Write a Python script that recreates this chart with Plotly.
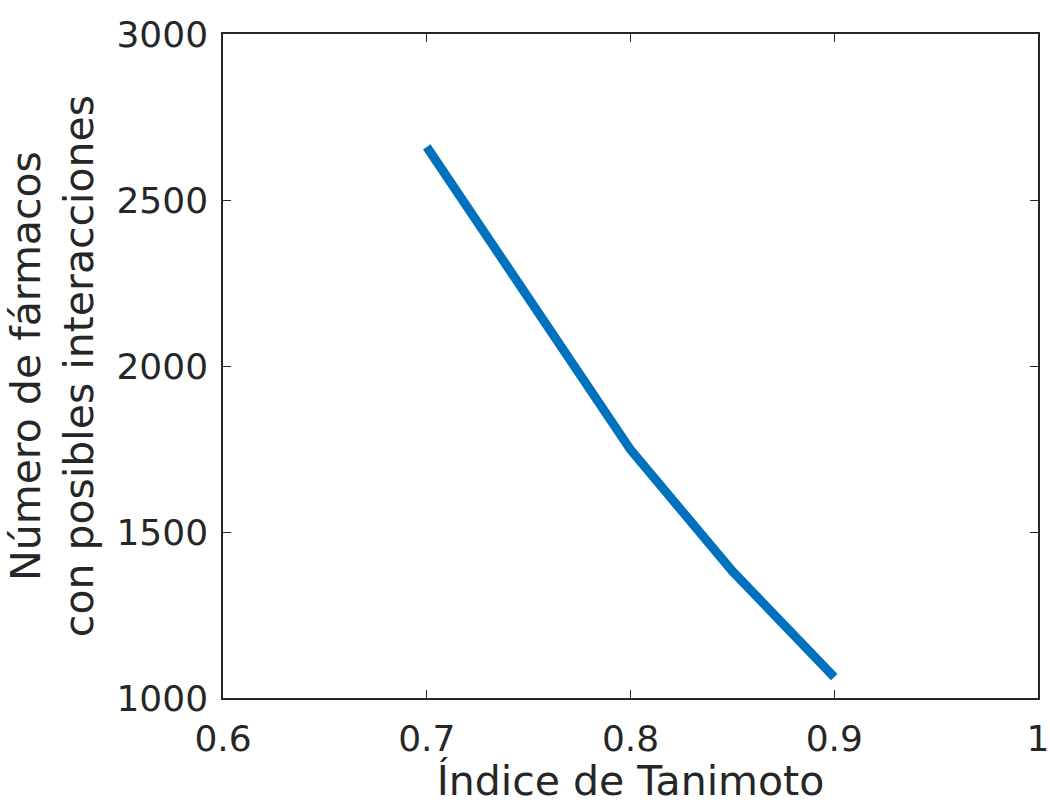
import plotly.graph_objects as go

tanimoto = [0.7, 0.75, 0.8, 0.85, 0.9]
n_farmacos = [2660, 2208, 1748, 1382, 1063]
x_ticks = [0.6, 0.7, 0.8, 0.9, 1.0]
x_tick_labels = ["0.6", "0.7", "0.8", "0.9", "1"]
y_ticks = [1000, 1500, 2000, 2500, 3000]
y_tick_labels = ["1000", "1500", "2000", "2500", "3000"]

axcol = "#262626"
tickfont = dict(family="DejaVu Sans", size=36, color=axcol)
titlefont = dict(family="DejaVu Sans", size=41, color=axcol)

fig = go.Figure()
fig.add_trace(go.Scatter(x=tanimoto, y=n_farmacos, mode="lines",
                         line=dict(color="#0072BD", width=9),
                         showlegend=False))

fig.update_layout(
    width=1050, height=805,
    margin=dict(l=223, r=12, t=34, b=107),
    plot_bgcolor="white", paper_bgcolor="white",
    font=tickfont,
)
fig.update_xaxes(range=[0.6, 1.0], tickvals=x_ticks, ticktext=x_tick_labels,
                 showgrid=False, zeroline=False, showline=True, linecolor=axcol,
                 linewidth=1.5, mirror="ticks", ticks="inside", ticklen=8,
                 tickcolor=axcol, tickwidth=1.2, tickfont=tickfont,
                 automargin=False, ticklabelstandoff=8,
                 title=dict(text="Índice de Tanimoto", font=titlefont, standoff=3))
fig.update_yaxes(range=[1000, 3000], tickvals=y_ticks, ticktext=y_tick_labels,
                 showgrid=False, zeroline=False, showline=True, linecolor=axcol,
                 linewidth=1.5, mirror="ticks", ticks="inside", ticklen=8,
                 tickcolor=axcol, tickwidth=1.2, tickfont=tickfont,
                 automargin=False, ticklabelstandoff=6,
                 title=dict(text="Número de fármacos<br>con posibles interacciones",
                            font=titlefont, standoff=10))

fig.write_html("out.html")
